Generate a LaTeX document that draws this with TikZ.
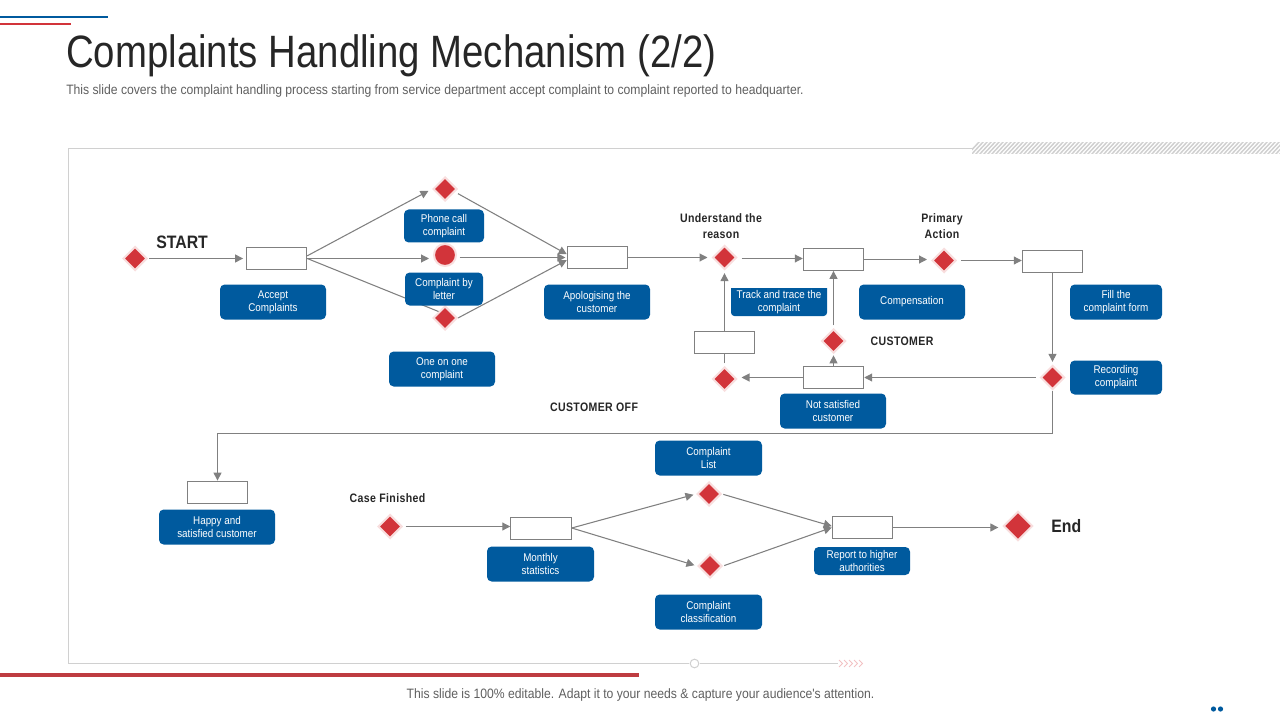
\documentclass[tikz,border=0pt]{standalone}
\usepackage{fontspec}
\setmainfont{Liberation Sans}
\newfontfamily\condf[FakeStretch=0.88]{Liberation Sans}
\newfontfamily\subf[FakeStretch=0.895]{Liberation Sans}
\newfontfamily\titlef[FakeStretch=0.846]{Liberation Sans}
\newfontfamily\headf[FakeStretch=0.86,LetterSpace=3]{Liberation Sans}
\usetikzlibrary{shapes.geometric,arrows.meta,calc}
\definecolor{lblue}{RGB}{0,90,158}
\definecolor{dred}{RGB}{210,52,58}
\definecolor{halo}{RGB}{248,222,222}
\definecolor{conn}{RGB}{128,128,128}
\definecolor{frame}{RGB}{208,208,208}
\definecolor{ink}{RGB}{38,38,38}
\definecolor{sub}{RGB}{95,95,95}
\definecolor{barred}{RGB}{190,60,65}
\tikzset{
  x=0.75pt,y=-0.75pt,
  dia/.style={diamond,fill=dred,draw=halo,line width=1.5pt,minimum width=18pt,minimum height=18pt,inner sep=0pt},
  rbox/.style={rectangle,draw=conn,fill=white,line width=0.6pt,minimum width=45.5pt,minimum height=16.5pt,inner sep=0pt},
  lbl/.style={rectangle,rounded corners=3.5pt,fill=lblue,text=white,align=center,inner sep=0pt,font=\condf\fontsize{8.4}{9.75}\selectfont},
  arr/.style={draw=conn,line width=0.8pt,-{Triangle[length=6pt,width=6pt]}},
  pln/.style={draw=conn,line width=0.8pt},
  head/.style={text=ink,align=center,font=\headf\bfseries\fontsize{9.2}{12}\selectfont},
  big/.style={text=ink,font=\condf\bfseries\fontsize{13.5}{16}\selectfont},
}
\newcommand{\lb}[6]{\node[lbl,minimum width=#4*0.75pt,minimum height=#5*0.75pt] (#1) at (#2,#3) {#6};}
\begin{document}
\begin{tikzpicture}
\useasboundingbox (0,0) rectangle (1280,720);
% decoration
\draw[lblue,line width=0.8pt] (0,17) -- (108,17);
\draw[dred,line width=0.8pt] (0,24) -- (71,24);
\node[anchor=west,inner sep=0pt,text=ink,font=\titlef\fontsize{34}{36}\selectfont] (title) at (66,56) {Complaints Handling Mechanism (2/2)};
\node[anchor=west,inner sep=0pt,text=sub,font=\subf\fontsize{10.2}{12}\selectfont] (subtitle) at (66,91) {This slide covers the complaint handling process starting from service department accept complaint to complaint reported to headquarter.};
\draw[frame,line width=0.75pt] (972,148.5) -- (68.5,148.5) -- (68.5,663.5) -- (689,663.5);
\draw[frame,line width=0.75pt] (700,663.5) -- (838,663.5);
\node[circle,draw=frame,fill=white,line width=0.75pt,minimum size=6.5pt,inner sep=0pt] (knob) at (694.5,663.5) {};
\foreach \i in {0,1,2,3,4}{
  \draw[draw=dred!30,line width=0.7pt] (839+\i*5,660) -- (842.5+\i*5,663.5) -- (839+\i*5,667);
}
\begin{scope}
\clip (972,143) rectangle (1280,154);
\foreach \i in {0,...,80}{
  \draw[frame,line width=1.1pt] (966+\i*4,156) -- (980+\i*4,141);
}
\end{scope}
\fill[barred] (0,673) rectangle (639,677);
\node[inner sep=0pt,text=sub,font=\subf\fontsize{10.2}{12}\selectfont] (foot) at (640.5,695) {This slide is 100\% editable. Adapt it to your needs \& capture your audience's attention.};
\fill[lblue] (1213.5,709) circle (2.6);
\fill[lblue] (1220.5,709) circle (2.6);
% nodes
\node[dia] (d1) at (135,258.5) {};
\node[rbox] (b1) at (276.5,258.5) {};
\node[dia] (d2) at (445,189) {};
\node[circle,fill=dred,draw=halo,line width=1.5pt,minimum size=16.5pt,inner sep=0pt] (c1) at (445,255) {};
\node[dia] (d3) at (445,318) {};
\node[rbox] (b2) at (597.5,257.5) {};
\node[dia] (d4) at (724.5,257.5) {};
\node[rbox] (b3) at (833.5,259.5) {};
\node[dia] (d5) at (944,260.5) {};
\node[rbox] (b4) at (1052.5,261.5) {};
\node[dia] (d6) at (1052.5,377.5) {};
\node[rbox] (b5) at (833.5,377.5) {};
\node[dia] (d7) at (833.5,341) {};
\node[dia] (d8) at (724.5,379) {};
\node[rbox] (b6) at (724.5,342) {};
\node[rbox] (b7) at (217.5,492) {};
\node[dia] (d9) at (390,526.5) {};
\node[rbox] (b8) at (541,528) {};
\node[dia] (d10) at (709,494) {};
\node[dia] (d11) at (710,566) {};
\node[rbox] (b9) at (862.5,527.5) {};
\node[dia,minimum width=22pt,minimum height=22pt] (d12) at (1018,526) {};
% connectors
\draw[arr,shorten <=1pt,shorten >=2pt] (d1.east) -- (d1.east -| b1.west);
\draw[arr,shorten >=3pt] ([yshift=2pt]b1.east) -- (d2.west);
\draw[arr,shorten >=3pt] (b1.east) -- (b1.east -| c1.west);
\draw[pln] (b1.east) -- (d3.north west);
\draw[arr] ([yshift=-3.5pt]d2.east) -- ([yshift=2.5pt]b2.west);
\draw[arr,shorten <=2pt,shorten >=1pt] ([yshift=-1.875pt]c1.east) -- ([yshift=-1.875pt]c1.east -| b2.west);
\draw[arr] (d3.east) -- ([yshift=-2pt]b2.west);
\draw[arr,shorten >=3pt] (b2.east) -- (b2.east -| d4.west);
\draw[arr,shorten <=3pt] ([yshift=-0.75pt]d4.east) -- ([yshift=-0.75pt]d4.east -| b3.west);
\draw[arr,shorten >=3pt] (b3.east) -- (b3.east -| d5.west);
\draw[arr,shorten <=3pt] (d5.east) -- (d5.east -| b4.west);
\draw[arr,shorten >=2pt] (b4.south -| d6.north) -- (d6.north);
\draw[arr,shorten <=3pt] (d6.west) -- (d6.west -| b5.east);
\draw[arr,shorten >=3pt] (b5.west) -- (b5.west -| d8.east);
\draw[pln,shorten <=2pt] (d8.north) -- (b6.south);
\draw[arr,shorten >=2pt] (b6.north) -- (d4.south);
\draw[arr,shorten >=1pt] (b5.north) -- (d7.south);
\draw[arr,shorten <=2pt] (d7.north) -- (b3.south);
\draw[arr] (d6.south) -- (d6.south |- 0,433.5) -- (b7.north |- 0,433.5) -- (b7.north);
\draw[arr,shorten <=2pt] (d9.east) -- (d9.east -| b8.west);
\draw[arr,shorten >=2pt] (b8.east) -- (d10.west);
\draw[arr,shorten >=2pt] (b8.east) -- (d11.west);
\draw[arr,shorten <=1pt] (d10.east) -- ([yshift=1pt]b9.west);
\draw[arr,shorten <=1pt] (d11.east) -- (b9.west);
\draw[arr,shorten >=3pt] (b9.east) -- (b9.east -| d12.west);
% labels
\lb{l1}{273}{302}{106}{35}{Accept\\Complaints}
\lb{l2}{444}{226}{80}{33}{Phone call\\complaint}
\lb{l3}{444}{289}{78}{33}{Complaint by\\letter}
\lb{l4}{442}{369}{106}{35}{One on one\\complaint}
\lb{l5}{597}{302}{106}{35}{Apologising the\\customer}
\fill[lblue] (731,288) -- (827,288) [rounded corners=2.5pt] -- (827,316) -- (731,316) [sharp corners] -- cycle;
\node[inner sep=0pt,text=white,align=center,font=\condf\fontsize{8.4}{9.75}\selectfont] (l6) at (779,302) {Track and trace the\\complaint};
\lb{l7}{912}{302}{106}{35}{Compensation}
\lb{l8}{1116}{302}{92}{35}{Fill the\\complaint form}
\lb{l9}{1116}{377.5}{92}{34}{Recording\\complaint}
\lb{l10}{833}{411}{106}{35}{Not satisfied\\customer}
\lb{l11}{708.5}{458}{107}{35}{Complaint\\List}
\lb{l12}{217}{527}{116}{35}{Happy and\\satisfied customer}
\lb{l13}{540.5}{564}{107}{35}{Monthly\\statistics}
\lb{l14}{862}{561}{96}{28}{Report to higher\\authorities}
\lb{l15}{708.5}{612}{107}{35}{Complaint\\classification}
% headings
\node[big,anchor=west,inner sep=0pt] (start) at (156,242) {START};
\node[big,anchor=west,inner sep=0pt] (endt) at (1051,526) {End};
\node[head,inner sep=0pt] (h1) at (721,226.5) {Understand the\\reason};
\node[head,inner sep=0pt] (h2) at (942,226.5) {Primary\\Action};
\node[head,inner sep=0pt] (h3) at (902,341) {CUSTOMER};
\node[head,inner sep=0pt] (h4) at (594,407) {CUSTOMER OFF};
\node[head,inner sep=0pt] (h5) at (387.5,498) {Case Finished};
\end{tikzpicture}
\end{document}
